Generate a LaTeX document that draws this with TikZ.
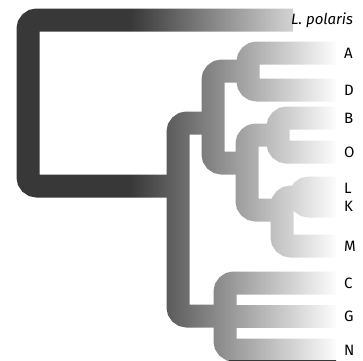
\documentclass[tikz,border=0pt]{standalone}
\usepackage{fontspec}
\setmainfont{Fira Sans}
\usetikzlibrary{fadings}
\tikzfading[name=treefade, left color=transparent!100, middle color=transparent!78, right color=transparent!0]
\begin{document}
\begin{tikzpicture}[x=1pt,y=-1pt,
  branch/.style={draw=black!78, line width=23pt, rounded corners=9pt},
  taxon/.style={anchor=west, inner sep=0pt, font=\fontsize{15}{15}\selectfont}]
\useasboundingbox (0,0) rectangle (363,360);
% named points of the tree
\coordinate (top) at (28,20);
\coordinate (polarisEnd) at (293,20);
\coordinate (rootJoin) at (28,186);
\coordinate (n1top) at (178,123);
\coordinate (n1bot) at (178,316);
\coordinate (n1root) at (178,186);
\coordinate (n2top) at (213,71);
\coordinate (n2bot) at (213,163);
\coordinate (adtop) at (248,53);
\coordinate (adbot) at (248,90);
\coordinate (n3top) at (247,135);
\coordinate (n3bot) at (247,210);
\coordinate (botop) at (278,118);
\coordinate (bobot) at (278,152);
\coordinate (lkmtop) at (282,197);
\coordinate (lkmbot) at (282,246);
\coordinate (lktop) at (300,188);
\coordinate (lkbot) at (300,206);
\coordinate (cgntop) at (225,283);
\coordinate (cgnmid) at (225,316);
\coordinate (cgnbot) at (225,350);
% tips
\coordinate (tA) at (336,53);
\coordinate (tD) at (336,90);
\coordinate (tB) at (336,118);
\coordinate (tO) at (336,152);
\coordinate (tL) at (336,188);
\coordinate (tK) at (336,206);
\coordinate (tM) at (336,246);
\coordinate (tC) at (336,283);
\coordinate (tG) at (336,316);
\coordinate (tN) at (336,350);
% branches
\draw[branch] (polarisEnd) -- (top) -- (rootJoin) -- (n1root);
\draw[branch] (n1top -| n2top) -- (n1top) -- (n1bot) -- (n1bot -| cgntop);
\draw[branch] (n2top -| adtop) -- (n2top) -- (n2bot) -- (n2bot -| n3top);
\draw[branch] (tA) -- (adtop) -- (adbot) -- (tD);
\draw[branch] (n3top -| botop) -- (n3top) -- (n3bot) -- (n3bot -| lkmtop);
\draw[branch] (tB) -- (botop) -- (bobot) -- (tO);
\draw[branch] (lkmtop -| lktop) -- (lkmtop) -- (lkmbot) -- (tM);
\draw[branch] (tL) -- (lktop) -- (lkbot) -- (tK);
\draw[branch] (tC) -- (cgntop) -- (cgnbot) -- (tN);
\draw[branch] (cgnmid) -- (tG);
% fade of the branches toward the tips
\fill[white, path fading=treefade] (130,0) rectangle (338,360);
% labels
\node[taxon, font=\fontsize{15}{15}\selectfont\itshape] (Lpol) at (291,20) {L. polaris};
\node[taxon] (A) at (344,53) {A};
\node[taxon] (D) at (344,90) {D};
\node[taxon] (B) at (344,118) {B};
\node[taxon] (O) at (344,152) {O};
\node[taxon] (L) at (344,188) {L};
\node[taxon] (K) at (344,206) {K};
\node[taxon] (M) at (344,246) {M};
\node[taxon] (C) at (344,283) {C};
\node[taxon] (G) at (344,316) {G};
\node[taxon] (N) at (344,350) {N};
\end{tikzpicture}
\end{document}
